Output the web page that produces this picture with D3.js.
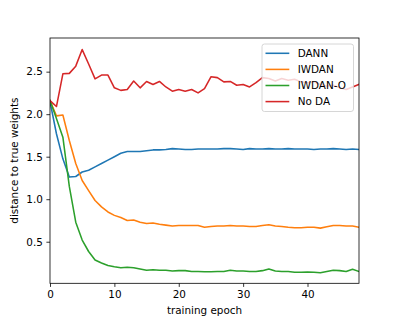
<!DOCTYPE html>
<html><head><meta charset="utf-8">
<script src="https://cdn.jsdelivr.net/npm/d3@7"></script>
<style>body{margin:0;background:#fff}svg{display:block}text{font-family:"DejaVu Sans",sans-serif}</style>
</head><body><svg id="c" width="399" height="319"></svg>
<script>
const epochs = d3.range(0, 49);
const seriesNames = ["DANN", "IWDAN", "IWDAN-O", "No DA"];
const dann = [2.15,1.77,1.475,1.26,1.267,1.32,1.34,1.38,1.42,1.46,1.50,1.54,1.56,1.56,1.56,1.57,1.58,1.58,1.585,1.595,1.59,1.585,1.585,1.59,1.59,1.59,1.59,1.595,1.595,1.59,1.585,1.595,1.59,1.59,1.595,1.59,1.59,1.595,1.59,1.59,1.59,1.585,1.59,1.59,1.595,1.59,1.585,1.59,1.585];
const iwdan = [2.16,1.98,1.99,1.69,1.42,1.22,1.10,0.985,0.91,0.85,0.81,0.785,0.75,0.755,0.73,0.715,0.72,0.705,0.695,0.685,0.69,0.69,0.69,0.69,0.67,0.68,0.685,0.685,0.69,0.685,0.685,0.68,0.68,0.69,0.70,0.685,0.68,0.67,0.665,0.665,0.67,0.67,0.66,0.675,0.69,0.69,0.685,0.685,0.67];
const iwdanO = [2.16,1.95,1.73,1.15,0.73,0.52,0.385,0.285,0.25,0.22,0.205,0.195,0.2,0.195,0.18,0.165,0.17,0.165,0.165,0.155,0.16,0.16,0.15,0.15,0.147,0.147,0.15,0.15,0.165,0.155,0.155,0.15,0.15,0.16,0.18,0.155,0.15,0.15,0.14,0.14,0.145,0.14,0.135,0.15,0.165,0.16,0.15,0.175,0.15];
const noDA = [2.16,2.09,2.475,2.48,2.565,2.76,2.59,2.415,2.46,2.46,2.31,2.28,2.29,2.39,2.31,2.385,2.35,2.385,2.32,2.27,2.29,2.27,2.29,2.25,2.30,2.44,2.43,2.38,2.385,2.34,2.35,2.32,2.37,2.43,2.42,2.39,2.42,2.40,2.41,2.38,2.37,2.38,2.35,2.33,2.34,2.31,2.29,2.32,2.35];
const xTicks = [0, 10, 20, 30, 40];
const yTicks = [0.5, 1.0, 1.5, 2.0, 2.5];
const colors = ["#1f77b4", "#ff7f0e", "#2ca02c", "#d62728"];
const data = [dann, iwdan, iwdanO, noDA];

const FS = 10.4;
const svg = d3.select("#c");
const L = 50, R = 359, T = 38, B = 283.3;
const x = d3.scaleLinear().domain([0, 48]).range([L, R]);
const y = d3.scaleLinear().domain([0.011, 2.896]).range([B, T]);

const g = svg.append("g");
svg.append("clipPath").attr("id","cl").append("rect").attr("x",L).attr("y",T).attr("width",R-L).attr("height",B-T);
const line = d3.line().x((d,i)=>x(epochs[i])).y(d=>y(d));
data.forEach((s,k)=>{
  g.append("path").attr("d", line(s)).attr("fill","none").attr("stroke",colors[k]).attr("stroke-width",1.55).attr("clip-path","url(#cl)").attr("stroke-linejoin","round").attr("stroke-linecap","square");
});

const xa = svg.append("g").attr("transform",`translate(0,${B})`).call(d3.axisBottom(x).tickValues(xTicks).tickSize(3.6).tickSizeOuter(0).tickFormat(d3.format("d")));
const ya = svg.append("g").attr("transform",`translate(${L},0)`).call(d3.axisLeft(y).tickValues(yTicks).tickSize(3.6).tickSizeOuter(0).tickFormat(d3.format(".1f")));
[xa, ya].forEach(a=>{
  a.select(".domain").remove();
  a.selectAll("line").attr("stroke","#000").attr("stroke-width",0.8);
  a.selectAll("text").attr("font-size",FS).attr("fill","#000").style("font-family","DejaVu Sans");
});
xa.selectAll("text").attr("dy","0.76em").attr("y",7.2);
ya.selectAll("text").attr("x",-7.2);

svg.append("rect").attr("x",L).attr("y",T).attr("width",R-L).attr("height",B-T).attr("fill","none").attr("stroke","#000").attr("stroke-width",0.8);

svg.append("text").attr("x",(L+R)/2).attr("y",313.5).attr("text-anchor","middle").attr("font-size",FS).text("training epoch");
svg.append("text").attr("transform",`translate(18,${(T+B)/2}) rotate(-90)`).attr("text-anchor","middle").attr("font-size",FS).text("distance to true weights");

// legend
const lg = svg.append("g");
lg.append("rect").attr("x",262).attr("y",44).attr("width",91.5).attr("height",67.5).attr("rx",2.5).attr("fill","#fff").attr("fill-opacity",0.8).attr("stroke","#cccccc").attr("stroke-width",0.8);
seriesNames.forEach((n,k)=>{
  const yy = 53.3 + k*16.1;
  lg.append("line").attr("x1",265.5).attr("x2",289.3).attr("y1",yy).attr("y2",yy).attr("stroke",colors[k]).attr("stroke-width",1.55);
  lg.append("text").attr("x",297.7).attr("y",yy).attr("dy","0.36em").attr("font-size",FS).text(n);
});
</script></body></html>
